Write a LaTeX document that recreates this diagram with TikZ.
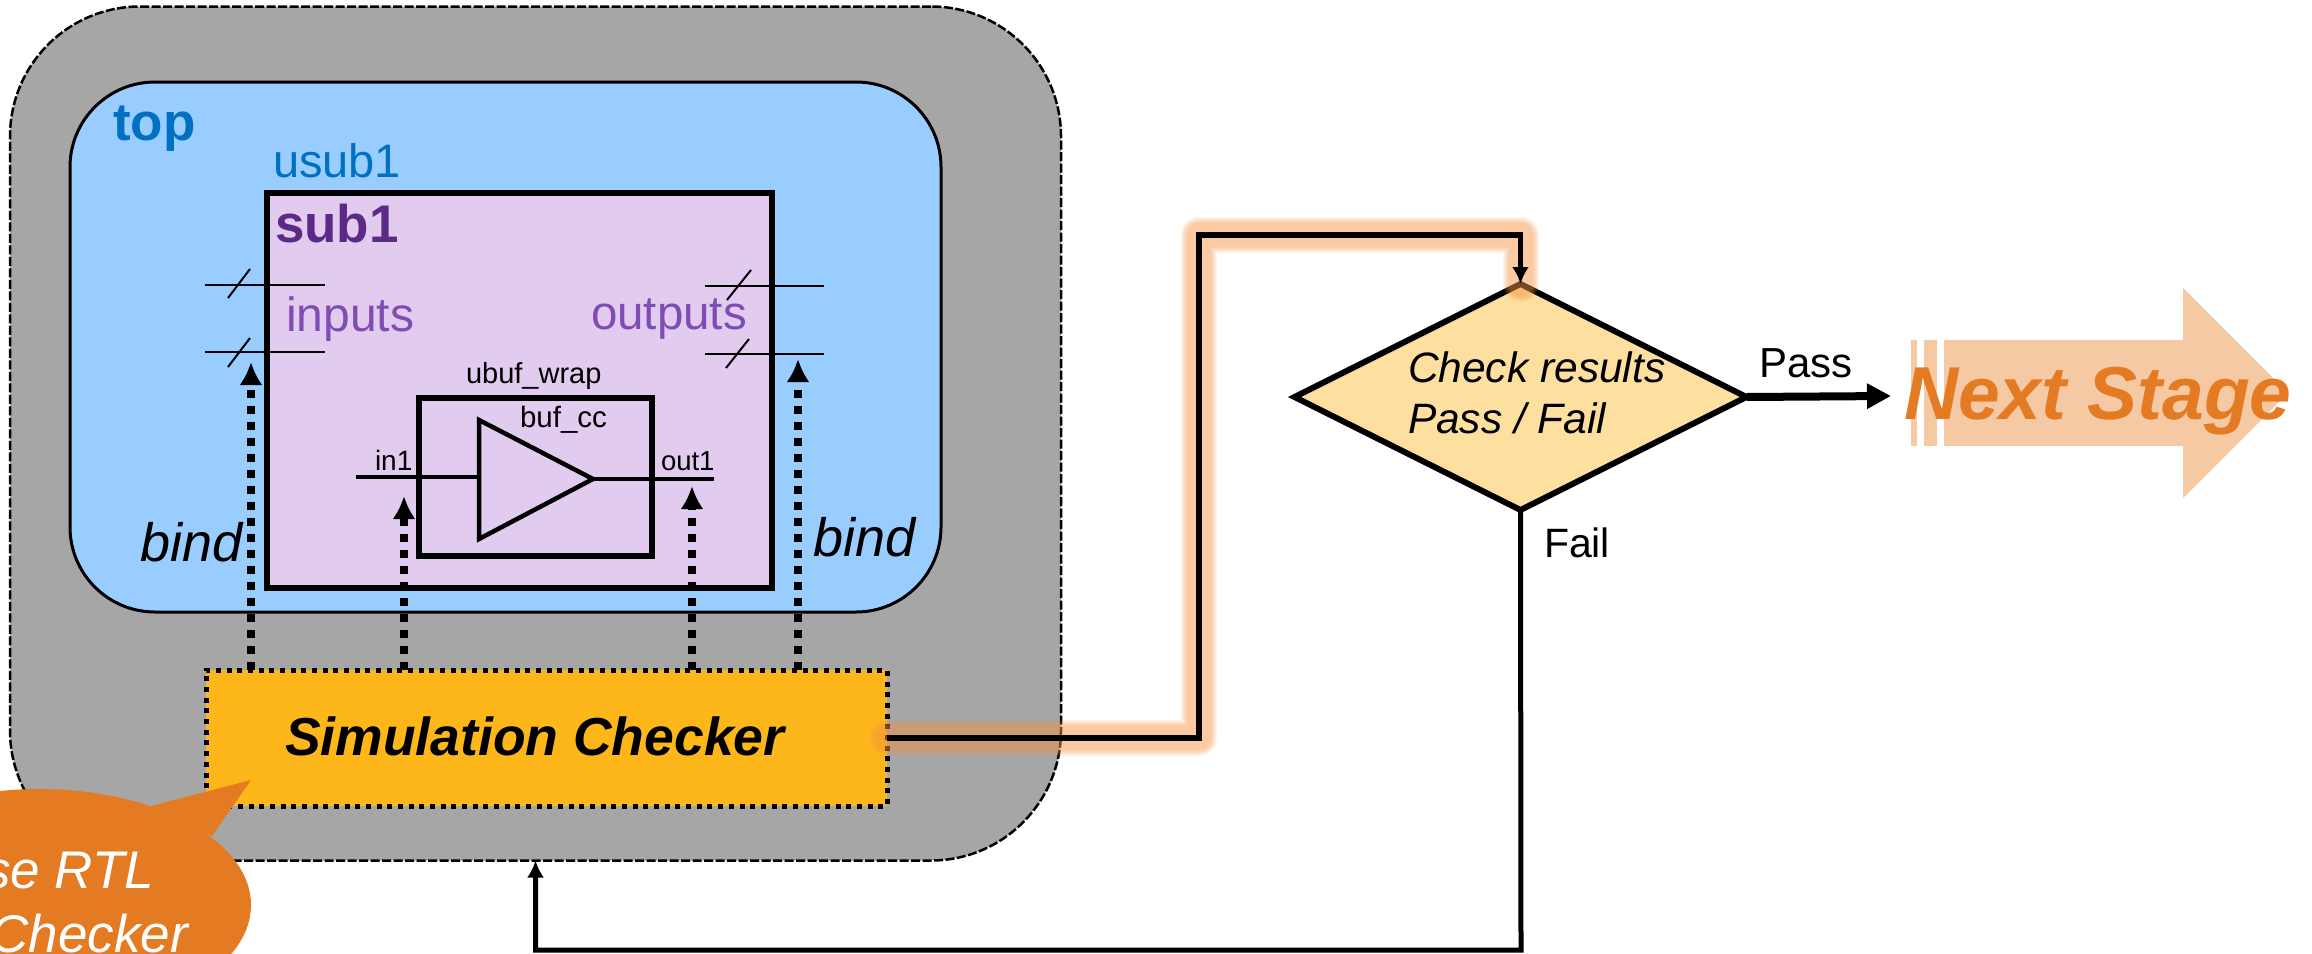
\documentclass[tikz,border=0pt]{standalone}
\usepackage{fontspec}
\setmainfont{Liberation Sans}
\usetikzlibrary{arrows.meta,shapes.geometric}
\newcommand{\fsz}[1]{\fontsize{#1}{#1}\selectfont}
\definecolor{outergray}{HTML}{A6A6A6}
\definecolor{topblue}{HTML}{99CCFF}
\definecolor{bluetxt}{HTML}{0070C0}
\definecolor{lilac}{HTML}{E1CBEE}
\definecolor{subtxt}{HTML}{5A2A86}
\definecolor{porttxt}{HTML}{7F4BB5}
\definecolor{checkfill}{HTML}{FDB71A}
\definecolor{diafill}{HTML}{FDE0A0}
\definecolor{orangec}{HTML}{E47A21}
\definecolor{arrowfill}{HTML}{F4C9A4}
\definecolor{glowc}{HTML}{F79646}
\tikzset{
  lbl/.style={inner sep=0pt,outer sep=0pt,anchor=base west},
  lble/.style={inner sep=0pt,outer sep=0pt,anchor=base east},
  box/.style={draw=black,rectangle,inner sep=0pt,outer sep=0pt},
  pin/.style={draw=black,line width=2.5pt},
  slash/.style={draw=black,line width=2pt},
  wire/.style={draw=black,line width=4.5pt},
  bindarrow/.style={draw=black,line width=8pt,dash pattern=on 8pt off 8pt,
     -{Latex[length=23pt,width=23pt]}},
  glowline/.style={draw=glowc,line cap=round,line join=round,opacity=.095},
  feed/.style={draw=black,line width=5pt,-{Latex[length=17pt,width=17pt]}},
}
\begin{document}
\begin{tikzpicture}[x=1pt,y=-1pt]
\clip (0,0) rectangle (2312,953);
% containers
\node[box,fill=outergray,line width=2.5pt,dash pattern=on 9pt off 2.5pt,rounded corners=130pt,
  minimum width=1051pt,minimum height=854pt] (outer) at (535.5,433.5) {};
\node[box,fill=topblue,line width=3pt,rounded corners=85pt,
  minimum width=871pt,minimum height=530pt] (topbox) at (505.5,347) {};
\node[lbl,text=bluetxt,font=\bfseries\fsz{53}] (toplbl) at (113,140) {top};
\node[lbl,text=bluetxt,font=\fsz{47}] (usublbl) at (273,177) {usub1};
\node[box,fill=lilac,line width=6pt,minimum width=505pt,minimum height=395pt] (sub) at (519.5,390.5) {};
\node[lbl,text=subtxt,font=\bfseries\fsz{53}] (sublbl) at (275,242) {sub1};
% pins
\coordinate (pa1) at (205,285); \coordinate (pa2) at (325,285);
\coordinate (pb1) at (205,352); \coordinate (pb2) at (325,352);
\coordinate (pc1) at (705,286); \coordinate (pc2) at (824,286);
\coordinate (pd1) at (705,354); \coordinate (pd2) at (824,354);
\draw[pin] (pa1) -- (pa2); \draw[pin] (pb1) -- (pb2);
\draw[pin] (pc1) -- (pc2); \draw[pin] (pd1) -- (pd2);
\coordinate (sa1) at (228,298); \coordinate (sa2) at (250,269);
\coordinate (sb1) at (228,367); \coordinate (sb2) at (250,338);
\coordinate (sc1) at (727,300); \coordinate (sc2) at (751,270);
\coordinate (sd1) at (726,368); \coordinate (sd2) at (749,339);
\draw[slash] (sa1) -- (sa2); \draw[slash] (sb1) -- (sb2);
\draw[slash] (sc1) -- (sc2); \draw[slash] (sd1) -- (sd2);
\node[lbl,text=porttxt,font=\fsz{48}] (inputslbl) at (286,331) {inputs};
\node[lbl,text=porttxt,font=\fsz{47.5}] (outputslbl) at (591,329) {outputs};
% buffer
\node[box,line width=5.5pt,minimum width=233pt,minimum height=158pt] (wrap) at (535.5,477) {};
\node[lbl,font=\fsz{29}] (wraplbl) at (466,383) {ubuf\_wrap};
\node[lbl,font=\fsz{29.5}] (buflbl) at (520,427) {buf\_cc};
\node[lbl,font=\fsz{28}] (in1lbl) at (375,470) {in1};
\node[lbl,font=\fsz{27.5}] (out1lbl) at (661,470) {out1};
\coordinate (tritop) at (479,420); \coordinate (tribot) at (479,539); \coordinate (trimid) at (593,479);
\coordinate (inl) at (356,477); \coordinate (inr) at (479,477);
\coordinate (outr) at (714,479);
\draw[wire,line join=miter] (tritop) -- (trimid) -- (tribot) -- cycle;
\draw[wire] (inl) -- (inr);
\draw[wire] (trimid) -- (outr);
% checker
\node[box,fill=checkfill,line width=5pt,dash pattern=on 5pt off 5.67pt,
  minimum width=681pt,minimum height=136pt] (checker) at (546.5,738) {};
\node[lbl,font=\bfseries\itshape\fsz{53.5}] (checklbl) at (285,755) {Simulation Checker};
% bind arrows
\coordinate (t1) at (251,362); \coordinate (t2) at (404,496);
\coordinate (t3) at (692,486); \coordinate (t4) at (798,359);
\draw[bindarrow] (t1 |- checker.north) -- (t1);
\draw[bindarrow] (t2 |- checker.north) -- (t2);
\draw[bindarrow] (t3 |- checker.north) -- (t3);
\draw[bindarrow] (t4 |- checker.north) -- (t4);
\node[lbl,font=\itshape\fsz{54}] (bindl) at (140,561) {bind};
\node[lbl,font=\itshape\fsz{54}] (bindr) at (813,556) {bind};
% decision
\node[diamond,draw=black,fill=diafill,line width=6pt,inner sep=0pt,outer sep=0pt,aspect=2,
  minimum width=452pt,minimum height=226pt] (dec) at (1520.5,397) {};
\node[lbl,font=\itshape\fsz{42.5}] (declbl1) at (1408,382) {Check results};
\node[lbl,font=\itshape\fsz{42.5}] (declbl2) at (1408,433) {Pass / Fail};
% glowing connector
\coordinate (gA) at (1199,235);
\foreach \w in {36,34,32,30,28,26,24}{
  \draw[glowline,line width=\w pt] (checker.east) -| (gA) -| (dec.north);
}
\draw[draw=black,line width=5.5pt,line join=miter,-{Latex[length=17pt,width=17pt]}] (checker.east) -| (gA) -| (dec.north);
% pass
\coordinate (passend) at (1891,396);
\draw[draw=black,line width=8pt,-{Triangle[length=24pt,width=24pt]}] (dec.east) -- (passend);
\node[lbl,font=\fsz{42}] (passlbl) at (1759,377) {Pass};
% next stage
\fill[arrowfill] (1944,340) -- (2183,340) -- (2183,288) -- (2288,393) -- (2183,498) -- (2183,446) -- (1944,446) -- cycle;
\fill[arrowfill] (1924,340) rectangle (1937,446);
\fill[arrowfill] (1911,340) rectangle (1917,446);
\node[lbl,text=orangec,font=\bfseries\itshape\fsz{75}] (nextlbl) at (1904,419) {Next Stage};
% fail
\coordinate (fb) at (1521,950);
\draw[feed] (dec.south) -- (fb) -| (outer.south);
\node[lbl,font=\fsz{41}] (faillbl) at (1544,557) {Fail};
% callout
\fill[orangec] (39,905) ellipse [x radius=212pt,y radius=116pt];
\fill[orangec] (251,780) -- (151,806) -- (212,836) -- cycle;
\node[lble,text=white,font=\itshape\fsz{53}] (call1) at (154,888) {se RTL};
\node[lble,text=white,font=\itshape\fsz{53}] (call2) at (188,952) {Checker};
\end{tikzpicture}
\end{document}
